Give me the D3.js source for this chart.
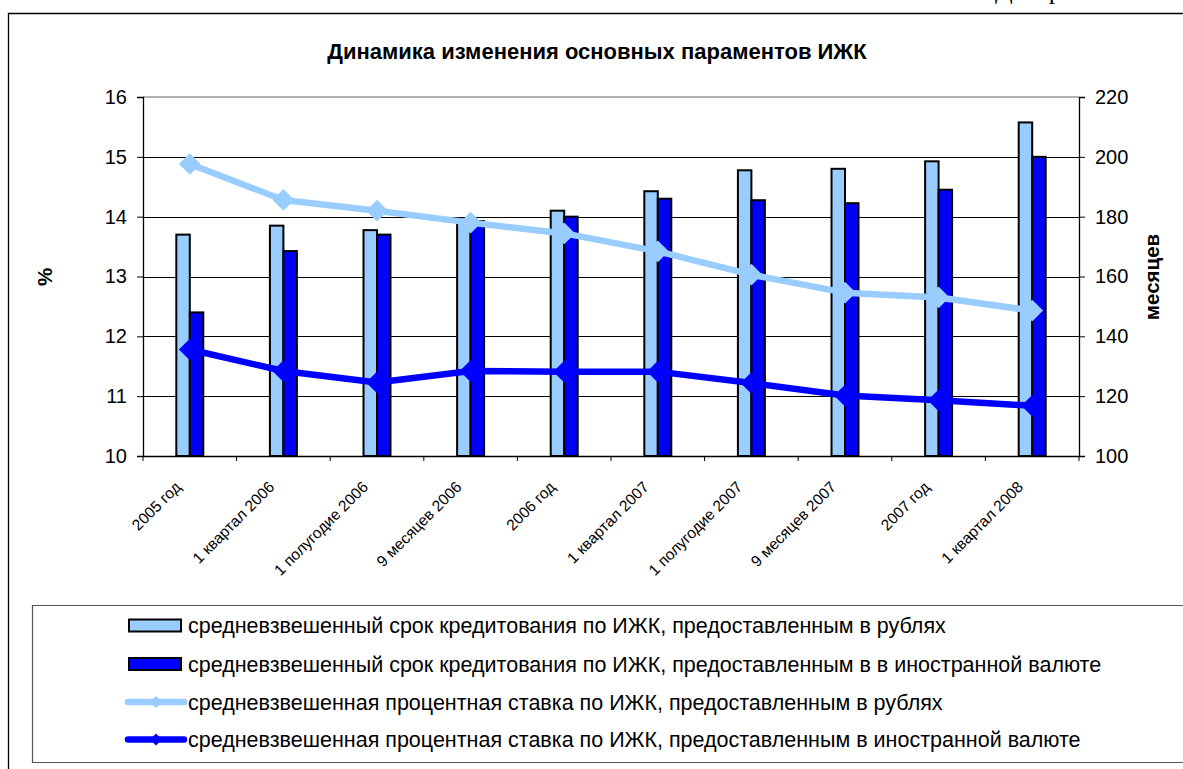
<!DOCTYPE html>
<html>
<head>
<meta charset="utf-8">
<script src="https://cdn.jsdelivr.net/npm/d3@7"></script>
<style>
  body { margin: 0; background: #fff; }
  text { font-family: "Liberation Sans", Arial, sans-serif; fill: #000; }
</style>
</head>
<body>
<div id="chart"></div>
<script>
const categories = ["2005 год", "1 квартал 2006", "1 полугодие 2006", "9 месяцев 2006", "2006 год",
    "1 квартал 2007", "1 полугодие 2007", "9 месяцев 2007", "2007 год", "1 квартал 2008"];

// months (right axis)
const termRub = [174, 177, 175.5, 179, 182, 188.5, 195.5, 196, 198.5, 211.5];
const termFx = [148, 168.5, 174, 178.5, 180, 186, 185.5, 184.5, 189, 200];

// percent (left axis)
const rateRub = [14.88, 14.28, 14.1, 13.9, 13.72, 13.42, 13.03, 12.73, 12.65, 12.43];
const rateFx = [11.78, 11.42, 11.23, 11.42, 11.41, 11.41, 11.22, 11.01, 10.93, 10.84];

const leftTicks = [10, 11, 12, 13, 14, 15, 16];
const rightTicks = [100, 120, 140, 160, 180, 200, 220];

const seriesNames = [
    "средневзвешенный срок кредитования по ИЖК, предоставленным в рублях",
    "средневзвешенный срок кредитования по ИЖК, предоставленным в в иностранной валюте",
    "средневзвешенная процентная ставка по ИЖК, предоставленным в рублях",
    "средневзвешенная процентная ставка по ИЖК, предоставленным в иностранной валюте"
];
const lightBlue = "#99ccff";
const blue = "#0000ff";

const width = 1183, height = 769;
const plot = { left: 143, right: 1079, top: 97, bottom: 456 };

const svg = d3.select("#chart")
    .append("svg")
    .attr("width", width)
    .attr("height", height);

// text of the page above, cut off by the picture's top edge
svg.append("text")
    .attr("x", 995)
    .attr("y", -1)
    .style("font-family", "'Liberation Serif', 'Times New Roman', serif")
    .style("font-size", "26px")
    .text("Диаграмма");

// outer frame
svg.append("path")
    .attr("d", `M8.5,${height} V13.5 H${width}`)
    .attr("fill", "none")
    .attr("stroke", "#000")
    .attr("stroke-width", 1.3);

svg.append("text")
    .attr("x", 597)
    .attr("y", 59)
    .attr("text-anchor", "middle")
    .style("font-size", "22px")
    .style("font-weight", "bold")
    .text("Динамика изменения основных параментов ИЖК");

const x0 = d3.scaleBand()
    .domain(categories)
    .range([plot.left, plot.right]);

const x1 = d3.scaleBand()
    .domain([0, 1])
    .range([0, x0.bandwidth()])
    .paddingOuter(2.47);

const yLeft = d3.scaleLinear().domain([10, 16]).range([plot.bottom, plot.top]);
const yRight = d3.scaleLinear().domain([100, 220]).range([plot.bottom, plot.top]);

// gridlines
svg.append("g")
    .selectAll("line")
    .data(leftTicks.slice(1, -1))
    .join("line")
    .attr("x1", plot.left)
    .attr("x2", plot.right)
    .attr("y1", d => Math.round(yLeft(d)) + 0.5)
    .attr("y2", d => Math.round(yLeft(d)) + 0.5)
    .attr("stroke", "#000")
    .attr("stroke-width", 1);

svg.append("line")
    .attr("x1", plot.left)
    .attr("x2", plot.right)
    .attr("y1", plot.top)
    .attr("y2", plot.top)
    .attr("stroke", "#999")
    .attr("stroke-width", 1.5);

// bars
const barData = categories.map((c, i) => [
    { cat: c, s: 0, v: termRub[i] },
    { cat: c, s: 1, v: termFx[i] }
]).flat();

svg.append("g")
    .selectAll("rect")
    .data(barData)
    .join("rect")
    .attr("x", d => x0(d.cat) + x1(d.s))
    .attr("y", d => yRight(d.v))
    .attr("width", x1.bandwidth())
    .attr("height", d => plot.bottom - yRight(d.v))
    .attr("fill", d => d.s === 0 ? lightBlue : blue)
    .attr("stroke", "#000")
    .attr("stroke-width", 2);

// axes
const leftAxis = d3.axisLeft(yLeft).tickValues(leftTicks).tickFormat(d3.format("d")).tickSize(6).tickPadding(10);
const gl = svg.append("g").attr("transform", `translate(${plot.left},0)`).call(leftAxis);

const rightAxis = d3.axisRight(yRight).tickValues(rightTicks).tickFormat(d3.format("d")).tickSize(6).tickPadding(10);
const gr = svg.append("g").attr("transform", `translate(${plot.right},0)`).call(rightAxis);

const bottomAxis = d3.axisBottom(x0).tickSize(0).tickFormat("");
const gb = svg.append("g").attr("transform", `translate(0,${plot.bottom})`).call(bottomAxis);

[gl, gr, gb].forEach(g => {
    g.select(".domain").attr("stroke", "#000").attr("stroke-width", 1.3);
    g.selectAll(".tick line").attr("stroke", "#000");
    g.selectAll("text").style("font-size", "20px").style("font-family", "'Liberation Sans', Arial, sans-serif");
});

// category boundary ticks
svg.append("g")
    .selectAll("line")
    .data(d3.range(categories.length + 1))
    .join("line")
    .attr("x1", i => plot.left + i * x0.step())
    .attr("x2", i => plot.left + i * x0.step())
    .attr("y1", plot.bottom)
    .attr("y2", plot.bottom + 5)
    .attr("stroke", "#000");

// rotated category labels
svg.append("g")
    .selectAll("text")
    .data(categories)
    .join("text")
    .attr("text-anchor", "end")
    .attr("transform", d => `translate(${x0(d) + x0.bandwidth() / 2 - 8},${plot.bottom + 32}) rotate(-45)`)
    .style("font-size", "15.5px")
    .text(d => d);

// lines
const lineLeft = d3.line()
    .x((d, i) => x0(categories[i]) + x0.bandwidth() / 2)
    .y(d => yLeft(d));

const diamond = d3.symbol().type(d3.symbolDiamond2).size(300);

[[rateRub, lightBlue], [rateFx, blue]].forEach(([vals, col]) => {
    svg.append("path")
        .datum(vals)
        .attr("d", lineLeft)
        .attr("fill", "none")
        .attr("stroke", col)
        .attr("stroke-width", 6.5)
        .attr("stroke-linejoin", "round");

    svg.append("g")
        .selectAll("path")
        .data(vals)
        .join("path")
        .attr("transform", (d, i) => `translate(${x0(categories[i]) + x0.bandwidth() / 2},${yLeft(d)})`)
        .attr("d", diamond)
        .attr("fill", col);
});

// axis titles
svg.append("text")
    .attr("transform", "translate(52,277) rotate(-90)")
    .attr("text-anchor", "middle")
    .style("font-size", "20.5px")
    .style("font-weight", "bold")
    .text("%");

svg.append("text")
    .attr("transform", "translate(1159,277) rotate(-90)")
    .attr("text-anchor", "middle")
    .style("font-size", "20.5px")
    .style("font-weight", "bold")
    .text("месяцев");

// legend
const legend = svg.append("g");
legend.append("path")
    .attr("d", `M${width},605.5 H32.5 V762.5 H${width}`)
    .attr("fill", "none")
    .attr("stroke", "#555")
    .attr("stroke-width", 1.2);

const rowY = [625.5, 664, 702, 739.5];
const items = legend.selectAll("g")
    .data(seriesNames)
    .join("g")
    .attr("transform", (d, i) => `translate(0,${rowY[i]})`);

items.filter((d, i) => i < 2)
    .append("rect")
    .attr("x", 129)
    .attr("y", -6)
    .attr("width", 52)
    .attr("height", 12)
    .attr("fill", (d, i) => i === 0 ? lightBlue : blue)
    .attr("stroke", "#000")
    .attr("stroke-width", 2);

items.filter((d, i) => i >= 2)
    .each(function (d, i) {
        const col = i === 0 ? lightBlue : blue;
        const g = d3.select(this);
        g.append("line")
            .attr("x1", 128).attr("x2", 184)
            .attr("stroke", col)
            .attr("stroke-width", 6.5)
            .attr("stroke-linecap", "round");
        g.append("path")
            .attr("transform", "translate(156,0)")
            .attr("d", d3.symbol().type(d3.symbolDiamond2).size(90))
            .attr("fill", col);
    });

items.append("text")
    .attr("x", 188)
    .attr("dy", "0.36em")
    .style("font-size", "21.5px")
    .text(d => d);
</script>
</body>
</html>
